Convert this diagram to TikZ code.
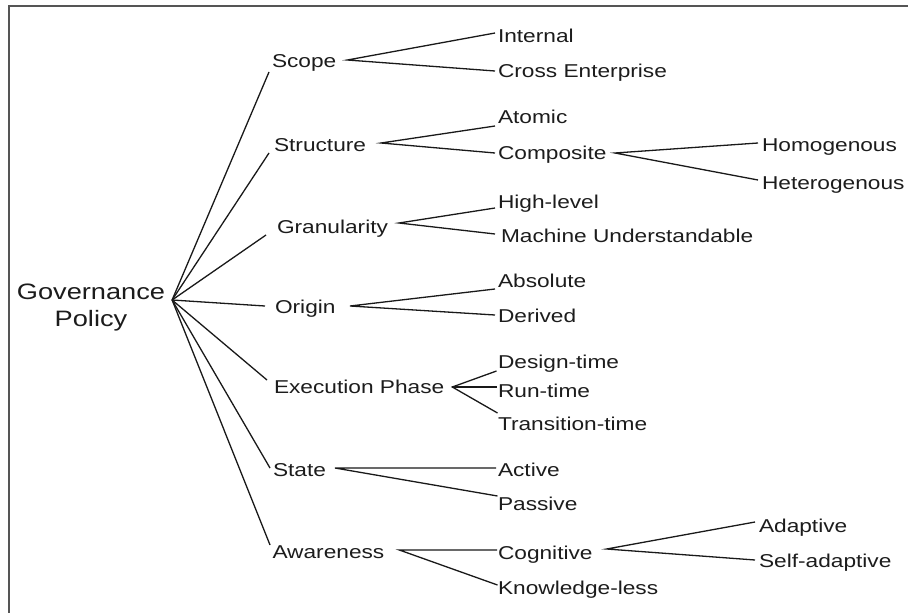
\documentclass[tikz,border=0pt]{standalone}
\usepackage{fontspec}
\setmainfont{Liberation Sans}[FakeStretch=1.22]
\definecolor{ink}{HTML}{1C1C1C}
\definecolor{framegray}{HTML}{555555}
\begin{document}
\begin{tikzpicture}[x=1pt,y=-1pt,
  lbl/.style={anchor=base west, inner sep=0pt, outer sep=0pt,
    font=\fontsize{18.6}{22}\selectfont, text=ink},
  rootlbl/.style={align=center, inner sep=0pt, outer sep=0pt,
    font=\fontsize{22.3}{27}\selectfont, text=ink},
  link/.style={draw=black!90, line width=1.3pt},
  frameline/.style={draw=framegray, line width=2pt},
]
\useasboundingbox (0,0) rectangle (908,613);
% open frame: top and left edges only
\draw[frameline] (9,613) -- (9,5.8) -- (908,5.8);

% root
\node[rootlbl] (gov) at (91,308) {Governance\\Policy};
\coordinate (hub) at ([shift={(7pt,8pt)}]gov.east);

% first level
\node[lbl] (scope)     at (272,67)   {Scope};
\node[lbl] (structure) at (274,151)  {Structure};
\node[lbl] (gran)      at (277,233)  {Granularity};
\node[lbl] (origin)    at (275,313)  {Origin};
\node[lbl] (exec)      at (274,393)  {Execution Phase};
\node[lbl] (state)     at (273,476)  {State};
\node[lbl] (aware)     at (272.5,558){Awareness};

% second level
\node[lbl] (internal)   at (498,42)  {Internal};
\node[lbl] (cross)      at (498,77)  {Cross Enterprise};
\node[lbl] (atomic)     at (498,123) {Atomic};
\node[lbl] (composite)  at (498,159) {Composite};
\node[lbl] (high)       at (498,208) {High-level};
\node[lbl] (machine)    at (501,242) {Machine Understandable};
\node[lbl] (absolute)   at (498,287) {Absolute};
\node[lbl] (derived)    at (498,322) {Derived};
\node[lbl] (design)     at (498,368) {Design-time};
\node[lbl] (run)        at (498,397) {Run-time};
\node[lbl] (transition) at (498,430) {Transition-time};
\node[lbl] (active)     at (498,476) {Active};
\node[lbl] (passive)    at (498,510) {Passive};
\node[lbl] (cognitive)  at (498,559) {Cognitive};
\node[lbl] (kless)      at (498,594) {Knowledge-less};

% third level
\node[lbl] (homo)     at (762,151) {Homogenous};
\node[lbl] (hetero)   at (762,189) {Heterogenous};
\node[lbl] (adaptive) at (759,532) {Adaptive};
\node[lbl] (selfad)   at (759,567) {Self-adaptive};

% root to first level
\draw[link] (hub) -- ([shift={(-3pt,-5pt)}]scope.base west);
\draw[link] (hub) -- ([shift={(-5pt,-2pt)}]structure.base west);
\draw[link] (hub) -- ([shift={(-11pt,-2pt)}]gran.base west);
\draw[link] (hub) -- ([shift={(-10pt,7pt)}]origin.base west);
\draw[link] (hub) -- ([shift={(-7pt,13pt)}]exec.base west);
\draw[link] (hub) -- ([shift={(-3pt,8pt)}]state.base west);
\draw[link] (hub) -- ([shift={(-2.5pt,13pt)}]aware.base west);

% first to second level
\draw[link] ([shift={(-3pt,9pt)}]internal.base west) -- ([shift={(11pt,7pt)}]scope.base east)
  -- ([shift={(-3pt,6pt)}]cross.base west);
\draw[link] ([shift={(-3pt,-3pt)}]atomic.base west) -- ([shift={(15pt,8pt)}]structure.base east)
  -- ([shift={(-3pt,6pt)}]composite.base west);
\draw[link] ([shift={(-3pt,0pt)}]high.base west) -- ([shift={(11pt,10pt)}]gran.base east)
  -- ([shift={(-6pt,8pt)}]machine.base west);
\draw[link] ([shift={(-3pt,-2pt)}]absolute.base west) -- ([shift={(14.5pt,7pt)}]origin.base east)
  -- ([shift={(-3pt,7pt)}]derived.base west);
\draw[link] ([shift={(-1.5pt,-3pt)}]design.base west) -- ([shift={(8pt,6pt)}]exec.base east)
  -- ([shift={(-0.5pt,17pt)}]transition.base west);
\draw[link] ([shift={(8pt,6pt)}]exec.base east) -- ([shift={(-1.5pt,10pt)}]run.base west);
\draw[link] ([shift={(-2pt,8pt)}]active.base west) -- ([shift={(9pt,8pt)}]state.base east)
  -- ([shift={(-0.5pt,14pt)}]passive.base west);
\draw[link] ([shift={(-1pt,9pt)}]cognitive.base west) -- ([shift={(15pt,8pt)}]aware.base east)
  -- ([shift={(-0.5pt,9pt)}]kless.base west);

% second to third level
\draw[link] ([shift={(-4pt,8pt)}]homo.base west) -- ([shift={(8.5pt,6pt)}]composite.base east)
  -- ([shift={(-4pt,9pt)}]hetero.base west);
\draw[link] ([shift={(-4pt,10pt)}]adaptive.base west) -- ([shift={(14pt,10pt)}]cognitive.base east)
  -- ([shift={(-4pt,7pt)}]selfad.base west);
\end{tikzpicture}
\end{document}
